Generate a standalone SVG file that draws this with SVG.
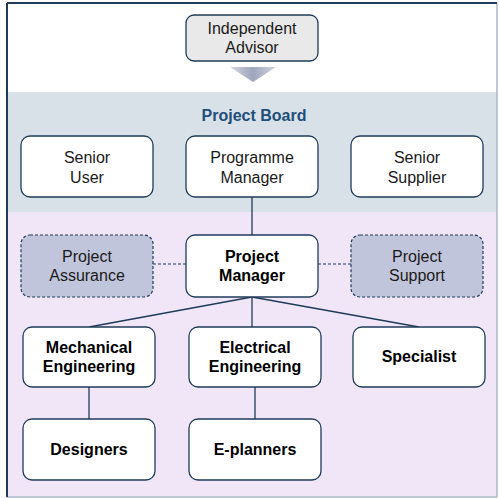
<svg xmlns="http://www.w3.org/2000/svg" width="499" height="498" viewBox="0 0 499 498">
<defs>
<linearGradient id="tri" x1="0" y1="0" x2="1" y2="0">
<stop offset="0" stop-color="#d3d6df"/>
<stop offset="0.5" stop-color="#9ea6bd"/>
<stop offset="1" stop-color="#d3d6df"/>
</linearGradient>
<style>
.box{fill:#ffffff;stroke:#1f3b5a;stroke-width:1.3}
.gray{fill:#e9e9e9;stroke:#1f3b5a;stroke-width:1.3}
.dash{fill:#c1c5db;stroke:#1f3b5a;stroke-width:1.2;stroke-dasharray:3 2}
.t{font-family:"Liberation Sans",Arial,sans-serif;font-size:16px;fill:#1a1a1a;text-anchor:middle}
.b{font-weight:bold;fill:#000000}
.ln{stroke:#1f3b5a;stroke-width:1.3;fill:none}
.dl{stroke:#1f3b5a;stroke-width:1.2;stroke-dasharray:3 2;fill:none}
</style>
</defs>
<rect x="0" y="0" width="499" height="498" fill="#ffffff"/>
<rect x="8" y="92" width="489" height="120" fill="#d9e1e8"/>
<rect x="8" y="212" width="489" height="285" fill="#f1e6f7"/>
<line x1="497" y1="3" x2="497" y2="497" stroke="#a9b8c8" stroke-width="1.5"/>
<line x1="7" y1="497" x2="497" y2="497" stroke="#a9b8c8" stroke-width="1.5"/>
<line x1="7" y1="3" x2="497" y2="3" stroke="#1f3b5a" stroke-width="2"/>
<line x1="7" y1="3" x2="7" y2="497" stroke="#1f3b5a" stroke-width="2"/>
<text class="t b" x="254" y="121" style="fill:#1f4e79">Project Board</text>
<polygon points="230,67 276,67 253,82" fill="url(#tri)"/>

<g id="connectors">
<line class="ln" x1="252" y1="197" x2="252" y2="235"/>
<line class="dl" x1="153" y1="264" x2="186" y2="264"/>
<line class="dl" x1="318" y1="264" x2="351" y2="264"/>
<line class="ln" x1="252" y1="297" x2="89" y2="327"/>
<line class="ln" x1="252" y1="297" x2="252" y2="327"/>
<line class="ln" x1="252" y1="297" x2="419" y2="327"/>
<line class="ln" x1="89" y1="387" x2="89" y2="419"/>
<line class="ln" x1="255" y1="387" x2="255" y2="419"/>
</g>

<g id="advisor"><rect class="gray" x="186" y="15" width="132" height="46" rx="8"/>
<text class="t" x="252" y="34">Independent</text><text class="t" x="252" y="53">Advisor</text></g>

<g id="senior-user"><rect class="box" x="21" y="136" width="132" height="61" rx="9"/>
<text class="t" x="87" y="163">Senior</text><text class="t" x="87" y="183">User</text></g>
<g id="programme-manager"><rect class="box" x="186" y="136" width="132" height="61" rx="9"/>
<text class="t" x="252" y="163">Programme</text><text class="t" x="252" y="183">Manager</text></g>
<g id="senior-supplier"><rect class="box" x="351" y="136" width="132" height="61" rx="9"/>
<text class="t" x="417" y="163">Senior</text><text class="t" x="417" y="183">Supplier</text></g>

<g id="project-assurance"><rect class="dash" x="21" y="235" width="132" height="62" rx="9"/>
<text class="t" x="87" y="262">Project</text><text class="t" x="87" y="281">Assurance</text></g>
<g id="project-manager"><rect class="box" x="186" y="235" width="132" height="62" rx="9"/>
<text class="t b" x="252" y="262">Project</text><text class="t b" x="252" y="281">Manager</text></g>
<g id="project-support"><rect class="dash" x="351" y="235" width="132" height="62" rx="9"/>
<text class="t" x="417" y="262">Project</text><text class="t" x="417" y="281">Support</text></g>

<g id="mechanical"><rect class="box" x="23" y="327" width="132" height="60" rx="9"/>
<text class="t b" x="89" y="353">Mechanical</text><text class="t b" x="89" y="372">Engineering</text></g>
<g id="electrical"><rect class="box" x="189" y="327" width="132" height="60" rx="9"/>
<text class="t b" x="255" y="353">Electrical</text><text class="t b" x="255" y="372">Engineering</text></g>
<g id="specialist"><rect class="box" x="353" y="327" width="132" height="60" rx="9"/>
<text class="t b" x="419" y="362">Specialist</text></g>

<g id="designers"><rect class="box" x="23" y="419" width="132" height="61" rx="9"/>
<text class="t b" x="89" y="455">Designers</text></g>
<g id="e-planners"><rect class="box" x="189" y="419" width="132" height="61" rx="9"/>
<text class="t b" x="255" y="455">E-planners</text></g>
</svg>
